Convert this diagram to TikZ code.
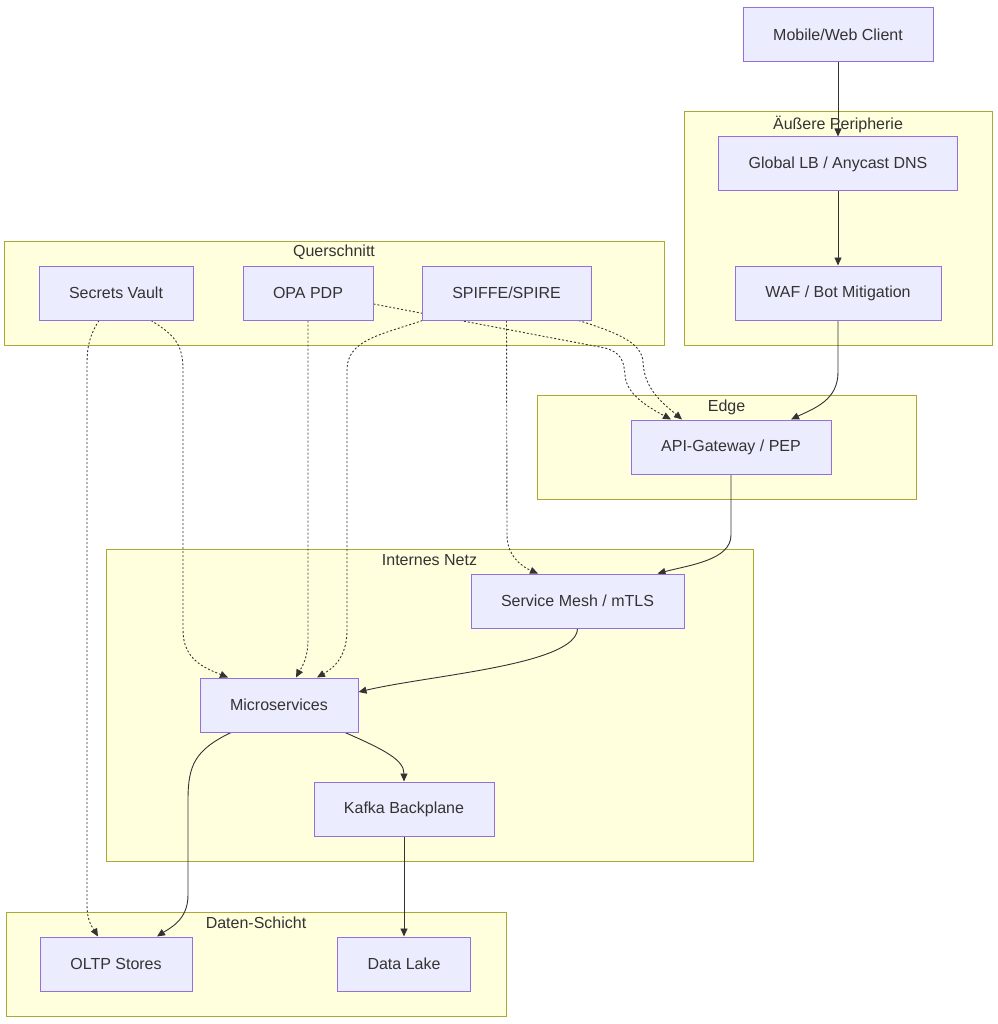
\documentclass[tikz,border=0pt]{standalone}
\usepackage{fontspec}
\setmainfont{Liberation Sans}
\usetikzlibrary{arrows.meta}
\definecolor{nodefill}{HTML}{ECECFF}
\definecolor{nodeline}{HTML}{9370DB}
\definecolor{clfill}{HTML}{FFFFDE}
\definecolor{clline}{HTML}{AAAA33}
\definecolor{txt}{HTML}{333333}
\pgfdeclarelayer{bg}
\pgfdeclarelayer{edges}
\pgfsetlayers{bg,edges,main}
\tikzset{
  box/.style={draw=nodeline, fill=nodefill, line width=1pt, minimum height=54pt, inner sep=0pt, text=txt, font=\fontsize{16pt}{19pt}\selectfont},
  cluster/.style={draw=clline, fill=clfill, line width=1pt},
  cltitle/.style={text=txt, font=\fontsize{16pt}{19pt}\selectfont, inner sep=0pt},
  link/.style={draw=txt, line width=0.9pt, -{Triangle[length=8pt,width=7pt]}},
  dlink/.style={draw=txt, line width=0.9pt, dash pattern=on 2pt off 2pt, -{Triangle[length=8pt,width=7pt]}}
}
\begin{document}
\begin{tikzpicture}[x=1pt,y=-1pt]
\useasboundingbox (0,0) rectangle (997,1024);
% nodes
\node[box, minimum width=190pt] (client) at (838,35) {Mobile/Web Client};
\node[box, minimum width=239pt] (glb) at (838,164) {Global LB / Anycast DNS};
\node[box, minimum width=206pt] (waf) at (838,293) {WAF / Bot Mitigation};
\node[box, minimum width=154pt] (sv) at (116,293) {Secrets Vault};
\node[box, minimum width=130pt] (opa) at (308,293) {OPA PDP};
\node[box, minimum width=169pt] (sp) at (506.5,293) {SPIFFE/SPIRE};
\node[box, minimum width=200pt] (gw) at (731,447) {API-Gateway / PEP};
\node[box, minimum width=213pt] (sm) at (577.5,601) {Service Mesh / mTLS};
\node[box, minimum width=158pt] (ms) at (279,705) {Microservices};
\node[box, minimum width=180pt] (kafka) at (404,809) {Kafka Backplane};
\node[box, minimum width=152pt] (oltp) at (116,964) {OLTP Stores};
\node[box, minimum width=133pt] (lake) at (404,964) {Data Lake};
% clusters
\begin{pgfonlayer}{bg}
\fill[white] (0,0) rectangle (997,1024);
\draw[cluster] (684,112) rectangle (992,345);
\node[cltitle] (t1) at (838,124) {Äußere Peripherie};
\draw[cluster] (4,241) rectangle (664,345);
\node[cltitle] (t2) at (334,252) {Querschnitt};
\draw[cluster] (537,395) rectangle (916,499);
\node[cltitle] (t3) at (726.5,407) {Edge};
\draw[cluster] (106,549) rectangle (753,861);
\node[cltitle] (t4) at (429.5,560) {Internes Netz};
\draw[cluster] (6,912) rectangle (506,1016);
\node[cltitle] (t5) at (256,923) {Daten-Schicht};
\end{pgfonlayer}
% edges
\begin{pgfonlayer}{edges}
\draw[link] (client.south) -- (glb.north);
\draw[link] (glb.south) -- (waf.north);
\draw[link] (waf.south) -- (838,372) .. controls (838,400) and (815,408) .. ([xshift=60pt]gw.north);
\draw[link] (gw.south) -- (731,535) .. controls (731,560) and (690,565) .. ([xshift=80pt]sm.north);
\draw[link] (sm.south) .. controls (577,665) and (430,675) .. ([yshift=13pt]ms.east);
\draw[link] ([xshift=66pt]ms.south) .. controls (385,750) and (404,760) .. (kafka.north);
\draw[link] ([xshift=-48pt]ms.south) .. controls (195,750) and (188,765) .. (188,800) -- (188,895) .. controls (188,920) and (170,928) .. ([xshift=41pt]oltp.north);
\draw[link] (kafka.south) -- (lake.north);
% dotted
\draw[dlink] ([xshift=-17pt]sv.south) .. controls (90,335) and (87,345) .. (87,365) -- (87,905) .. controls (87,922) and (93,928) .. ([xshift=-18pt]oltp.north);
\draw[dlink] ([xshift=35pt]sv.south) .. controls (175,335) and (183,345) .. (183,370) -- (183,630) .. controls (183,660) and (205,668) .. ([xshift=-51pt]ms.north);
\draw[dlink] (opa.south) -- (308,640) .. controls (308,660) and (300,670) .. ([xshift=17pt]ms.north);
\draw[dlink] ([xshift=1pt]sp.south west) .. controls (380,335) and (347,340) .. (347,370) -- (347,630) .. controls (347,660) and (330,670) .. ([xshift=38pt]ms.north);
\draw[dlink] (sp.south) -- (507,535) .. controls (507,558) and (525,568) .. ([xshift=-39.5pt]sm.north);
\draw[dlink] ([yshift=-11pt]opa.east) -- (605,348) .. controls (620,352) and (624,360) .. (625,375) .. controls (626,395) and (650,408) .. ([xshift=-60pt]gw.north);
\draw[dlink] ([xshift=72pt]sp.south) .. controls (615,332) and (642,342) .. (643,362) .. controls (644,390) and (665,405) .. ([xshift=-49pt]gw.north);
\end{pgfonlayer}
\end{tikzpicture}
\end{document}
